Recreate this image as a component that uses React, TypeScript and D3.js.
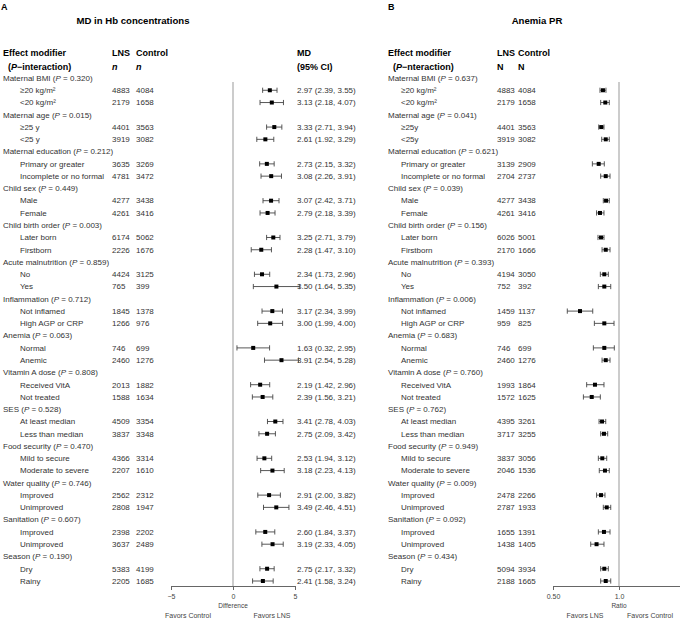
import React, { useEffect, useRef } from "react";
import * as d3 from "d3";

// effect modifier groups (same in both panels)
const groupNames = [
  "Maternal BMI", "Maternal age", "Maternal education", "Child sex", "Child birth order",
  "Acute malnutrition", "Inflammation", "Anemia", "Vitamin A dose", "SES",
  "Food security", "Water quality", "Sanitation", "Season",
];
const pA = ["0.320", "0.015", "0.212", "0.449", "0.003", "0.859", "0.712", "0.063", "0.808", "0.528", "0.470", "0.746", "0.607", "0.190"];
const pB = ["0.637", "0.041", "0.621", "0.039", "0.156", "0.393", "0.006", "0.683", "0.760", "0.762", "0.949", "0.009", "0.092", "0.434"];

const subA = [
  "≥20 kg/m²", "<20 kg/m²", "≥25 y", "<25 y", "Primary or greater", "Incomplete or no formal",
  "Male", "Female", "Later born", "Firstborn", "No", "Yes", "Not inflamed", "High AGP or CRP",
  "Normal", "Anemic", "Received VitA", "Not treated", "At least median", "Less than median",
  "Mild to secure", "Moderate to severe", "Improved", "Unimproved", "Improved", "Unimproved", "Dry", "Rainy",
];
const subB = subA.map((s) => (s === "≥25 y" ? "≥25y" : s === "<25 y" ? "<25y" : s));

// panel A: mean difference in Hb
const lnsA = [4883, 2179, 4401, 3919, 3635, 4781, 4277, 4261, 6174, 2226, 4424, 765, 1845, 1266, 746, 2460, 2013, 1588, 4509, 3837, 4366, 2207, 2562, 2808, 2398, 3637, 5383, 2205];
const ctrlA = [4084, 1658, 3563, 3082, 3269, 3472, 3438, 3416, 5062, 1676, 3125, 399, 1378, 976, 699, 1276, 1882, 1634, 3354, 3348, 3314, 1610, 2312, 1947, 2202, 2489, 4199, 1685];
const mdA = [2.97, 3.13, 3.33, 2.61, 2.73, 3.08, 3.07, 2.79, 3.25, 2.28, 2.34, 3.5, 3.17, 3.0, 1.63, 3.91, 2.19, 2.39, 3.41, 2.75, 2.53, 3.18, 2.91, 3.49, 2.6, 3.19, 2.75, 2.41];
const loA = [2.39, 2.18, 2.71, 1.92, 2.15, 2.26, 2.42, 2.18, 2.71, 1.47, 1.73, 1.64, 2.34, 1.99, 0.32, 2.54, 1.42, 1.56, 2.78, 2.09, 1.94, 2.23, 2.0, 2.46, 1.84, 2.33, 2.17, 1.58];
const hiA = [3.55, 4.07, 3.94, 3.29, 3.32, 3.91, 3.71, 3.39, 3.79, 3.1, 2.96, 5.35, 3.99, 4.0, 2.95, 5.28, 2.96, 3.21, 4.03, 3.42, 3.12, 4.13, 3.82, 4.51, 3.37, 4.05, 3.32, 3.24];

// panel B: anemia prevalence ratio
const lnsB = [4883, 2179, 4401, 3919, 3139, 2704, 4277, 4261, 6026, 2170, 4194, 752, 1459, 959, 746, 2460, 1993, 1572, 4395, 3717, 3837, 2046, 2478, 2787, 1655, 1438, 5094, 2188];
const ctrlB = [4084, 1658, 3563, 3082, 2909, 2737, 3438, 3416, 5001, 1666, 3050, 392, 1137, 825, 699, 1276, 1864, 1625, 3261, 3255, 3056, 1536, 2266, 1933, 1391, 1405, 3934, 1665];
const prB = [0.845, 0.866, 0.83, 0.87, 0.808, 0.87, 0.873, 0.819, 0.828, 0.87, 0.857, 0.857, 0.664, 0.857, 0.857, 0.87, 0.777, 0.751, 0.837, 0.854, 0.839, 0.863, 0.828, 0.879, 0.854, 0.79, 0.857, 0.87];
const loB = [0.819, 0.825, 0.808, 0.834, 0.756, 0.825, 0.848, 0.79, 0.802, 0.837, 0.822, 0.805, 0.581, 0.772, 0.764, 0.837, 0.712, 0.688, 0.811, 0.825, 0.805, 0.813, 0.79, 0.848, 0.805, 0.743, 0.825, 0.825];
const hiB = [0.872, 0.903, 0.854, 0.903, 0.857, 0.91, 0.903, 0.854, 0.854, 0.91, 0.894, 0.917, 0.759, 0.949, 0.952, 0.91, 0.854, 0.822, 0.87, 0.888, 0.879, 0.903, 0.863, 0.917, 0.91, 0.854, 0.894, 0.917];

const FONT = "'Liberation Sans', Arial, Helvetica, sans-serif";

export default function App() {
  const ref = useRef<SVGSVGElement>(null);

  useEffect(() => {
    const svg = d3.select(ref.current);
    svg.selectAll("*").remove();
    svg.attr("font-family", FONT);

    const nRows = groupNames.length * 3;
    const y = d3.scaleLinear().domain([0, nRows - 1]).range([78, 581]);
    const axisY = 586;

    const panel = (opt: any) => {
      const g = svg.append("g");
      g.append("text").attr("x", opt.letterX).attr("y", 10).attr("font-size", 9).attr("font-weight", "bold").text(opt.letter);
      g.append("text").attr("x", opt.titleX).attr("y", 24).attr("font-size", 9.6).attr("font-weight", "bold")
        .attr("text-anchor", "middle").text(opt.title);

      // headers
      const hdr = (x: number, yy: number, t: string, italic = false) =>
        g.append("text").attr("x", x).attr("y", yy).attr("font-size", 9).attr("font-weight", "bold")
          .attr("font-style", italic ? "italic" : "normal").text(t);
      hdr(opt.groupX, 56, "Effect modifier");
      const pi = g.append("text").attr("x", opt.groupX + 5).attr("y", 70).attr("font-size", 9).attr("font-weight", "bold");
      pi.append("tspan").text("(");
      pi.append("tspan").attr("font-style", "italic").text("P");
      pi.append("tspan").text(opt.pLabel);
      hdr(opt.nX, 56, "LNS");
      hdr(opt.cX, 56, "Control");
      hdr(opt.nX, 70, opt.nLetter, opt.nItalic);
      hdr(opt.cX, 70, opt.nLetter, opt.nItalic);
      if (opt.estHead) {
        hdr(opt.estX, 56, opt.estHead[0]);
        hdr(opt.estX, 70, opt.estHead[1]);
      }

      const x = opt.x;
      // reference line
      g.append("line").attr("x1", x(opt.refVal)).attr("x2", x(opt.refVal)).attr("y1", 82).attr("y2", axisY)
        .attr("stroke", "#999").attr("stroke-width", 1);

      groupNames.forEach((name, gi) => {
        const gy = y(gi * 3);
        const t = g.append("text").attr("x", opt.groupX).attr("y", gy).attr("dy", "0.35em")
          .attr("font-size", 8).attr("fill", "#333");
        t.append("tspan").text(name + " (");
        t.append("tspan").attr("font-style", "italic").text("P");
        t.append("tspan").text(" = " + opt.p[gi] + ")");

        for (let k = 0; k < 2; k++) {
          const i = gi * 2 + k;
          const ry = y(gi * 3 + 1 + k);
          const txt = (xx: number, s: string) =>
            g.append("text").attr("x", xx).attr("y", ry).attr("dy", "0.35em").attr("font-size", 8)
              .attr("fill", "#333").text(s);
          txt(opt.subX, opt.sub[i]);
          txt(opt.nX, String(opt.lns[i]));
          txt(opt.cX, String(opt.ctrl[i]));
          if (opt.estX) {
            txt(opt.estX, `${mdA[i].toFixed(2)} (${loA[i].toFixed(2)}, ${hiA[i].toFixed(2)})`);
          }
          const x1 = x(opt.lo[i]), x2 = x(opt.hi[i]);
          g.append("line").attr("x1", x1).attr("x2", x2).attr("y1", ry).attr("y2", ry).attr("stroke", "#444").attr("stroke-width", 0.9);
          [x1, x2].forEach((cx) =>
            g.append("line").attr("x1", cx).attr("x2", cx).attr("y1", ry - 2.6).attr("y2", ry + 2.6).attr("stroke", "#444").attr("stroke-width", 0.9));
          g.append("rect").attr("x", x(opt.est[i]) - 2).attr("y", ry - 2).attr("width", 4).attr("height", 4).attr("fill", "#000");
        }
      });

      // axis
      const ax = g.append("g").attr("transform", `translate(0,${axisY})`)
        .call(d3.axisBottom(x).tickValues(opt.ticks).tickFormat(opt.fmt).tickSize(4).tickSizeOuter(0));
      ax.select(".domain").attr("stroke", "#666");
      ax.selectAll(".tick line").attr("stroke", "#666");
      ax.selectAll(".tick text").attr("font-size", 7).attr("fill", "#444").attr("font-family", FONT).attr("dy", "0.9em");
      g.append("text").attr("x", x(opt.refVal)).attr("y", 608).attr("text-anchor", "middle").attr("font-size", 6.5)
        .attr("fill", "#444").text(opt.axisTitle);
      g.append("text").attr("x", opt.favL[1]).attr("y", 618).attr("text-anchor", "middle").attr("font-size", 7)
        .attr("fill", "#444").text(opt.favL[0]);
      g.append("text").attr("x", opt.favR[1]).attr("y", 618).attr("text-anchor", "middle").attr("font-size", 7)
        .attr("fill", "#444").text(opt.favR[0]);
    };

    panel({
      letter: "A", letterX: 1, title: "MD in Hb concentrations", titleX: 133,
      groupX: 3, subX: 20, nX: 112, cX: 136, estX: 297, estHead: ["MD", "(95% CI)"],
      pLabel: "−interaction)", nLetter: "n", nItalic: true,
      p: pA, sub: subA, lns: lnsA, ctrl: ctrlA, est: mdA, lo: loA, hi: hiA,
      x: d3.scaleLinear().domain([-5, 5]).range([171, 295]), refVal: 0,
      ticks: [-5, 0, 5], fmt: (d: number) => String(d).replace("-", "−"),
      axisTitle: "Difference", favL: ["Favors Control", 188], favR: ["Favors LNS", 272],
    });

    panel({
      letter: "B", letterX: 388, title: "Anemia PR", titleX: 537,
      groupX: 388, subX: 401, nX: 497, cX: 518, estX: 0, estHead: null,
      pLabel: "−nteraction)", nLetter: "N", nItalic: false,
      p: pB, sub: subB, lns: lnsB, ctrl: ctrlB, est: prB, lo: loB, hi: hiB,
      x: d3.scaleLog().domain([0.5, 2]).range([553, 685]), refVal: 1,
      ticks: [0.5, 1, 2], fmt: (d: number) => (d === 0.5 ? "0.50" : d.toFixed(1)),
      axisTitle: "Ratio", favL: ["Favors LNS", 585], favR: ["Favors Control", 650],
    });
  }, []);

  return (
    <svg ref={ref} width={680} height={620} style={{ position: "absolute", left: 0, top: 0, background: "#fff" }} />
  );
}
